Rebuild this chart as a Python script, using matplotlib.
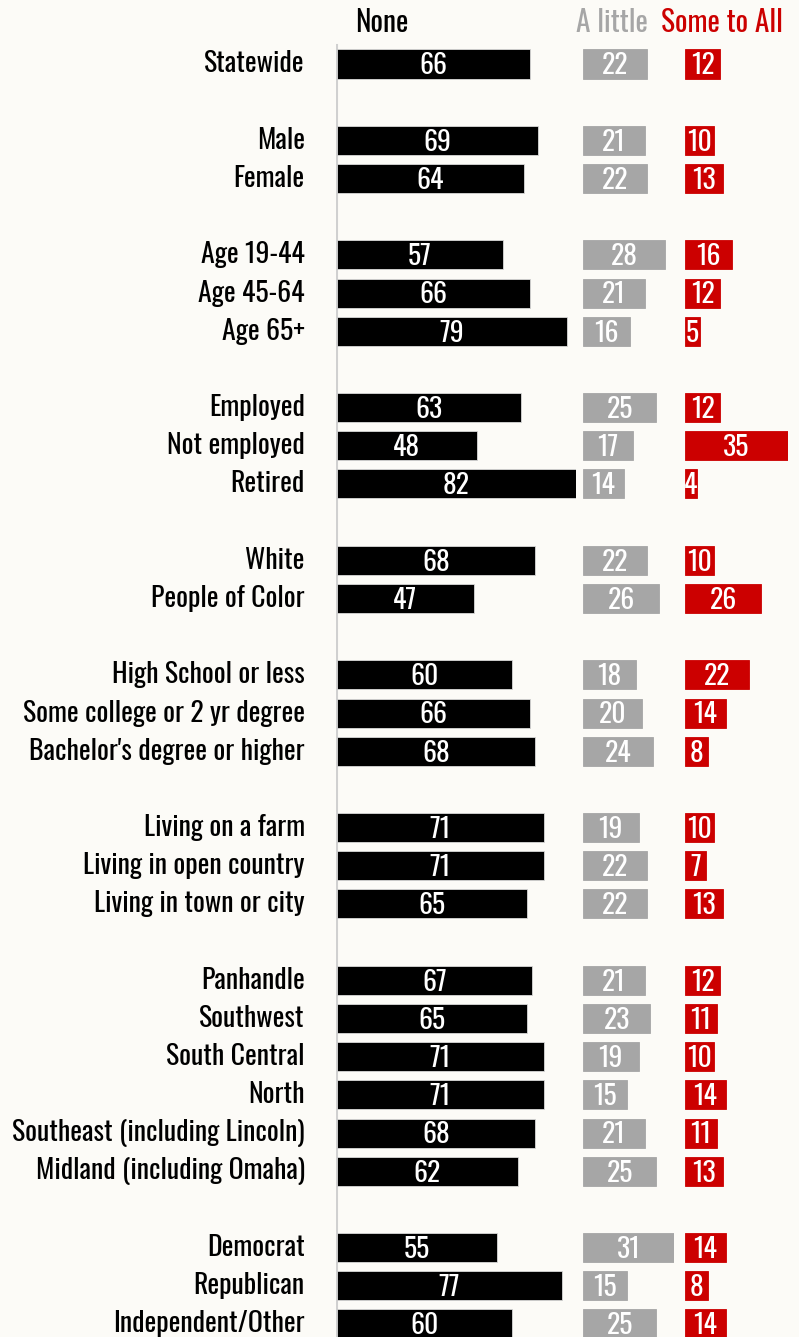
import matplotlib
matplotlib.use("Agg")
import matplotlib.pyplot as plt
from matplotlib import font_manager

# data
categories = [
    "Statewide",
    "Male", "Female",
    "Age 19-44", "Age 45-64", "Age 65+",
    "Employed", "Not employed", "Retired",
    "White", "People of Color",
    "High School or less", "Some college or 2 yr degree", "Bachelor's degree or higher",
    "Living on a farm", "Living in open country", "Living in town or city",
    "Panhandle", "Southwest", "South Central", "North",
    "Southeast (including Lincoln)", "Midland (including Omaha)",
    "Democrat", "Republican", "Independent/Other",
]
group_sizes = [1, 2, 3, 3, 2, 3, 3, 6, 3]
none = [66, 69, 64, 57, 66, 79, 63, 48, 82, 68, 47, 60, 66, 68, 71, 71, 65,
        67, 65, 71, 71, 68, 62, 55, 77, 60]
a_little = [22, 21, 22, 28, 21, 16, 25, 17, 14, 22, 26, 18, 20, 24, 19, 22, 22,
            21, 23, 19, 15, 21, 25, 31, 15, 25]
some_to_all = [12, 10, 13, 16, 12, 5, 12, 35, 4, 10, 26, 22, 14, 8, 10, 7, 13,
               12, 11, 10, 14, 11, 13, 14, 8, 14]

headers = ["None", "A little", "Some to All"]
colors = ["#000000", "#a6a6a6", "#cc0000"]

# pick a condensed font if there is one
fprop = None
for f in font_manager.fontManager.ttflist:
    n = f.name.lower()
    if "oswald" in n:
        fprop = font_manager.FontProperties(fname=f.fname)
        break
if fprop is None:
    for f in font_manager.fontManager.ttflist:
        n = f.name.lower()
        st = str(f.stretch).lower()
        if ("condensed" in n or "narrow" in n or "condensed" in st) and f.weight in (400, "normal", "regular"):
            if "bold" in f.fname.lower() or "oblique" in f.fname.lower() or "italic" in f.fname.lower():
                continue
            fprop = font_manager.FontProperties(fname=f.fname)
            break
if fprop is None:
    fprop = font_manager.FontProperties(family="DejaVu Sans")

# row positions: one blank row between groups
ypos = []
row = 0
for g in group_sizes:
    for i in range(g):
        ypos.append(row)
        row += 1
    row += 1

W, H = 799, 1337
bg = "#fcfbf7"
fig = plt.figure(figsize=(W / 100, H / 100), dpi=100, facecolor=bg)
renderer = fig.canvas.get_renderer()


def fit_size(text, target_px, base=20):
    t = fig.text(0, 0, text, fontproperties=fprop, fontsize=base)
    w = t.get_window_extent(renderer).width
    t.remove()
    return base * target_px / w


label_fs = min(fit_size("Southeast (including Lincoln)", 293), 21)
num_fs = min(fit_size("82", 27), 21)
head_fs = min(fit_size("Some to All", 122), 23)

row_px = 38.18
top_row = -64 / row_px
bot_row = (H - 64) / row_px
px_unit = 2.93
starts = [336, 583, 685]

series = [none, a_little, some_to_all]
axes = []
for k, vals in enumerate(series):
    w = max(vals) * px_unit
    ax = fig.add_axes([starts[k] / W, 0, w / W, 1])
    ax.set_facecolor("none")
    ax.barh(ypos, vals, height=0.76, color=colors[k],
            edgecolor="#d8d8d8" if k == 0 else colors[k], linewidth=0.6)
    for y, v in zip(ypos, vals):
        ax.text(v / 2, y + 0.05, str(v), color="white", ha="center", va="center",
                fontproperties=fprop, fontsize=num_fs)
    ax.set_xlim(0, max(vals))
    ax.set_ylim(bot_row, top_row)
    ax.axis("off")
    axes.append(ax)

ax0 = axes[0]
# vertical baseline
ax0.axvline(0, ymin=0, ymax=(H - 45) / H, color="#d0d0d0", lw=1.5, zorder=0)
ax0.set_xlim(-0.25, max(none))

for y, c in zip(ypos, categories):
    ax0.annotate(c, xy=(0, y), xytext=(-32, 0), textcoords="offset pixels",
                 ha="right", va="center", fontproperties=fprop,
                 fontsize=label_fs, color="black")

header_x = [382, 612, 722]
for hx, h, col in zip(header_x, headers, colors):
    fig.text(hx / W, 1 - 22 / H, h, ha="center", va="center",
             fontproperties=fprop, fontsize=head_fs, color=col)

fig.savefig("out.png", dpi=100, facecolor=bg)
